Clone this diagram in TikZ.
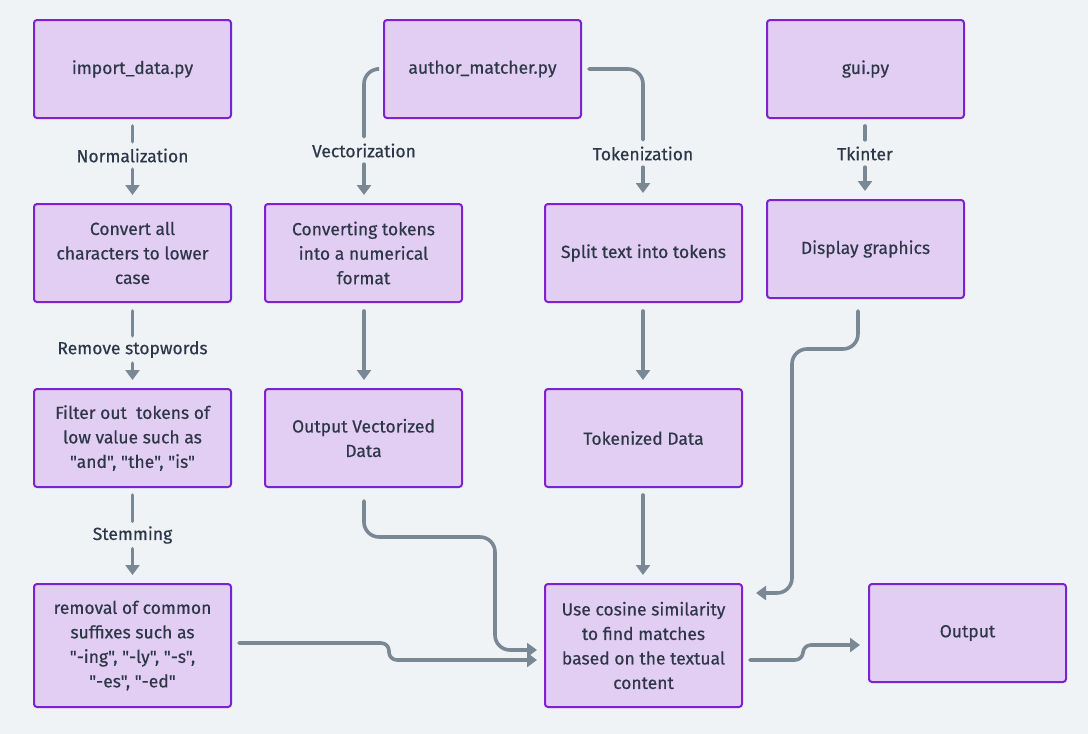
\documentclass[tikz,border=0pt]{standalone}
\usepackage{fontspec}
\setmainfont{Fira Sans}[Ligatures=TeXOff, UprightFeatures={FakeBold=0.5}]
\usetikzlibrary{arrows.meta}
\definecolor{bg}{HTML}{EFF3F6}
\definecolor{boxfill}{HTML}{E3CEF3}
\definecolor{boxdraw}{HTML}{7E22CE}
\definecolor{txt}{HTML}{2D3748}
\definecolor{conn}{HTML}{7A8896}
\tikzset{
  box/.style={draw=boxdraw, fill=boxfill, line width=2pt, rounded corners=3pt,
    minimum width=197pt, minimum height=98pt, inner sep=0pt, align=center,
    text=txt, font=\fontsize{17.5}{24.5}\selectfont},
  lab/.style={inner sep=0pt, minimum height=27pt, text=txt, font=\fontsize{17.5}{20}\selectfont},
  line/.style={draw=conn, line width=3.6pt, line cap=round, rounded corners=15pt},
  arr/.style={line, -{Triangle[width=14pt,length=10pt]}},
}
\begin{document}
\begin{tikzpicture}[x=1pt,y=-1pt]
\fill[bg] (0,0) rectangle (1088,734);
\useasboundingbox (0,0) rectangle (1088,734);

% boxes
\node[box] (imp) at (132.5,69) {import\_data.py};
\node[box] (am) at (482.5,69) {author\_matcher.py};
\node[box] (gui) at (865.5,69) {gui.py};
\node[box] (conv) at (132.5,253) {Convert all\\characters to lower\\case};
\node[box] (vec) at (363.5,253) {Converting tokens\\into a numerical\\format};
\node[box] (split) at (643.5,253) {Split text into tokens};
\node[box] (disp) at (865.5,249) {Display graphics};
\node[box] (filt) at (132.5,438) {Filter out\ \ tokens of\\low value such as\\"and", "the", "is"};
\node[box] (ovec) at (363.5,438) {Output Vectorized\\Data};
\node[box] (tok) at (643.5,438) {Tokenized Data};
\node[box, minimum height=123pt] (rem) at (132.5,645.5) {removal of common\\suffixes such as\\"-ing", "-ly", "-s",\\"-es", "-ed"};
\node[box, minimum height=123pt] (cos) at (643.5,645.5) {Use cosine similarity\\to find matches\\based on the textual\\content};
\node[box] (out) at (967.5,633) {Output};

% labels
\node[lab] (l1) at (132.5,155.5) {Normalization};
\node[lab] (l2) at (364,150.5) {Vectorization};
\node[lab] (l3) at (643,153.5) {Tokenization};
\node[lab] (l4) at (865,153.5) {Tkinter};
\node[lab] (l5) at (132.5,349.5) {Remove stopwords};
\node[lab] (l6) at (132.5,535) {Stemming};

\coordinate (c1) at (495,537);
\coordinate (c2) at (389,660);
\coordinate (c3) at (803,645);
\coordinate (c4) at (858,349);
\coordinate (c5) at (792,593);

% connectors
\draw[line, shorten <=7pt] (imp.south) -- (l1.north);
\draw[arr, shorten >=8pt] (l1.south) -- (conv.north);
\draw[line] ([xshift=-6pt]am.west) -| (l2.north);
\draw[arr, shorten >=8pt] (l2.south) -- (vec.north -| l2.south);
\draw[line] ([xshift=7pt]am.east) -| (l3.north);
\draw[arr, shorten >=10pt] (l3.south) -- (split.north -| l3.south);
\draw[line, shorten <=7pt] (gui.south -| l4.north) -- (l4.north);
\draw[arr, shorten >=8pt] (l4.south) -- (disp.north -| l4.south);
\draw[line, shorten <=8pt] (conv.south) -- (l5.north);
\draw[arr, shorten >=8pt] (l5.south) -- (filt.north);
\draw[line, shorten <=7pt] (filt.south) -- (l6.north);
\draw[arr, shorten >=8pt] (l6.south) -- (rem.north);

\draw[arr, shorten <=8pt, shorten >=8pt] (vec.south -| l2.south) -- (ovec.north -| l2.south);
\draw[arr, shorten <=8pt, shorten >=8pt] (split.south -| l3.south) -- (tok.north -| l3.south);
\draw[arr, shorten <=7pt, shorten >=8pt] (tok.south -| l3.south) -- (cos.north -| l3.south);

\draw[arr] ([yshift=-13pt]ovec.south -| l2.south) |- (c1) |- ([xshift=-7pt,yshift=-4.5pt]cos.west);
\draw[arr, rounded corners=8pt] ([xshift=7pt,yshift=2.5pt]rem.east) -| (c2) -- ([xshift=-7pt,yshift=-14.5pt]cos.west);
\draw[arr, rounded corners=8pt] ([xshift=7pt,yshift=-14.5pt]cos.east) -| (c3) -- ([xshift=-8pt,yshift=-12pt]out.west);
\draw[arr] ([yshift=-12pt]disp.south -| c4) -- (c4) -| (c5) -- ([xshift=13pt]c5 -| cos.east);
\end{tikzpicture}
\end{document}
